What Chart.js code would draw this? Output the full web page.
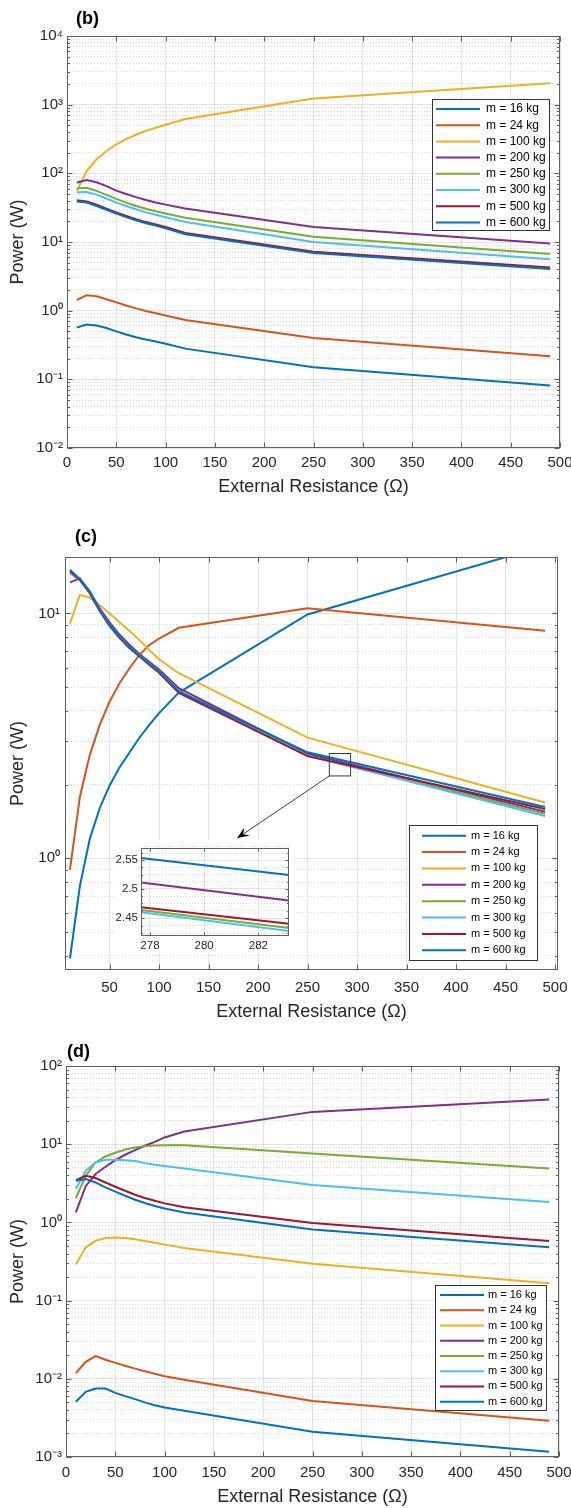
<!DOCTYPE html>
<html>
<head>
<meta charset="utf-8">
<script src="https://cdn.jsdelivr.net/npm/chart.js@4.4.1/dist/chart.umd.min.js"></script>
<style>
  html, body { margin: 0; padding: 0; background: #fff; }
  #page { position: relative; width: 571px; height: 1508px; overflow: hidden; background: #fff; }
  canvas { position: absolute; left: 0; }
  #inset { background: #fff; }
</style>
</head>
<body>
<div id="page">
  <canvas id="chartB" width="571" height="500" style="top:0px"></canvas>
  <canvas id="chartC" width="571" height="525" style="top:500px"></canvas>
  <canvas id="chartD" width="571" height="483" style="top:1025px"></canvas>
  <canvas id="inset" width="178" height="113" style="top:840px;left:116px"></canvas>
</div>
<script>
// external resistance (ohm) at which power was computed
var resistance = [10, 20, 30, 40, 50, 60, 70, 80, 90, 100, 120, 250, 490];
var massLabels = ['m = 16 kg', 'm = 24 kg', 'm = 100 kg', 'm = 200 kg', 'm = 250 kg', 'm = 300 kg', 'm = 500 kg', 'm = 600 kg'];
var seriesColors = ['#0072BD', '#D95319', '#EDB120', '#7E2F8E', '#77AC30', '#4DBEEE', '#A2142F', '#0072BD'];

// panel (b) power (W)
var b16  = [0.57, 0.63, 0.61, 0.56, 0.50, 0.45, 0.41, 0.38, 0.355, 0.33, 0.28, 0.15, 0.081];
var b24  = [1.43, 1.68, 1.62, 1.47, 1.32, 1.19, 1.08, 0.99, 0.92, 0.85, 0.73, 0.40, 0.217];
var b100 = [56, 108, 160, 212, 265, 315, 365, 415, 462, 510, 620, 1230, 2050];
var b200 = [73.5, 80, 74, 65, 56, 50, 45, 41, 37.5, 35, 30.8, 16.6, 9.5];
var b250 = [60, 61.5, 55.5, 48.5, 42.5, 37.5, 33.5, 30.5, 28, 26, 22.5, 11.9, 6.7];
var b300 = [53, 53.5, 49, 43, 37.5, 33.5, 30, 27, 25, 23, 19.5, 10, 5.6];
var b500 = [40.5, 39, 35, 30.5, 27, 24, 21.5, 19.5, 18, 16.5, 13.5, 7.2, 4.25];
var b600 = [39, 37.5, 33.5, 29.5, 26, 23, 20.7, 18.8, 17.3, 15.8, 13, 6.9, 4.05];

// panel (c) power (W)
var c16  = [0.39, 0.77, 1.2, 1.6, 1.98, 2.35, 2.7, 3.1, 3.5, 3.92, 4.75, 9.9, 18.9];
var c24  = [0.9, 1.78, 2.64, 3.5, 4.36, 5.18, 5.96, 6.76, 7.42, 7.9, 8.74, 10.5, 8.5];
var c100 = [9.1, 11.9, 11.6, 10.8, 10.0, 9.2, 8.5, 7.8, 7.1, 6.5, 5.7, 3.11, 1.69];
var c200 = [13.4, 13.9, 12.3, 10.5, 9.2, 8.2, 7.45, 6.85, 6.35, 5.9, 4.95, 2.674, 1.55];
var c250 = [14.6, 13.7, 12.2, 10.3, 8.95, 8.0, 7.3, 6.75, 6.25, 5.8, 4.82, 2.624, 1.52];
var c300 = [14.8, 13.7, 12.2, 10.3, 8.95, 8.0, 7.28, 6.73, 6.22, 5.77, 4.79, 2.626, 1.49];
var c500 = [14.9, 13.7, 12.1, 10.25, 8.9, 7.95, 7.22, 6.68, 6.18, 5.72, 4.74, 2.614, 1.59];
var c600 = [15.1, 13.8, 12.2, 10.3, 8.95, 8.0, 7.28, 6.73, 6.23, 5.78, 4.8, 2.71, 1.62];

// panel (d) power (W)
var d16  = [0.0051, 0.0068, 0.0075, 0.0075, 0.0066, 0.006, 0.0055, 0.005, 0.0046, 0.0043, 0.0039, 0.0021, 0.00117];
var d24  = [0.0118, 0.0165, 0.0195, 0.0175, 0.016, 0.0147, 0.0135, 0.0125, 0.0116, 0.0108, 0.0097, 0.0052, 0.0029];
var d100 = [0.29, 0.48, 0.58, 0.63, 0.64, 0.63, 0.61, 0.58, 0.55, 0.52, 0.47, 0.295, 0.167];
var d200 = [1.34, 2.9, 4.15, 5.14, 6.26, 7.33, 8.4, 9.55, 10.7, 12.2, 14.5, 25.9, 37.2];
var d250 = [2.05, 3.95, 5.84, 6.97, 7.77, 8.55, 9.07, 9.45, 9.62, 9.73, 9.7, 7.6, 4.9];
var d300 = [2.67, 4.57, 5.84, 6.31, 6.31, 6.25, 6.1, 5.73, 5.46, 5.25, 4.9, 3.0, 1.82];
var d500 = [3.48, 3.95, 3.69, 3.24, 2.86, 2.54, 2.26, 2.05, 1.89, 1.75, 1.56, 0.98, 0.58];
var d600 = [3.42, 3.58, 3.24, 2.8, 2.47, 2.19, 1.95, 1.77, 1.62, 1.51, 1.34, 0.81, 0.48];

// tick values and labels
var xTicks = [0, 50, 100, 150, 200, 250, 300, 350, 400, 450, 500];
var xTicksC = [50, 100, 150, 200, 250, 300, 350, 400, 450, 500];
var yTicksB = [0.01, 0.1, 1, 10, 100, 1000, 10000];
var yLabelsB = ['10⁻²', '10⁻¹', '10⁰', '10¹', '10²', '10³', '10⁴'];
var yTicksC = [1, 10];
var yLabelsC = ['10⁰', '10¹'];
var yTicksD = [0.001, 0.01, 0.1, 1, 10, 100];
var yLabelsD = ['10⁻³', '10⁻²', '10⁻¹', '10⁰', '10¹', '10²'];
var insetXTicks = [278, 280, 282];
var insetYTicks = [2.45, 2.5, 2.55];
var insetYLabels = ['2.45', '2.5', '2.55'];

var FONT = "'Liberation Sans', Arial, Helvetica, sans-serif";
var TEXT = '#262626';
var AXIS = '#5e5e5e';
var GRID_MAJOR = 'rgba(0,0,0,0.11)';
var GRID_MINOR = 'rgba(0,0,0,0.16)';

function near(a, b) { return Math.abs(a - b) <= Math.abs(b) * 1e-6; }

// 1..9 x 10^k grid positions between min and max
function logGrid(min, max) {
    var out = [];
    for (var e = Math.floor(Math.log10(min)); e <= Math.ceil(Math.log10(max)); e++) {
        for (var m = 1; m <= 9; m++) {
            var v = m * Math.pow(10, e);
            if (v >= min * 0.9999 && v <= max * 1.0001) out.push(v);
        }
    }
    return out;
}

var framePlugin = {
    id: 'frame',
    afterDatasetsDraw: function(chart, args, o) {
        var ctx = chart.ctx, a = chart.chartArea;
        var x = chart.scales.x, y = chart.scales.y;
        ctx.save();

        if (o.marker) {
            var m = o.marker;
            var x0 = x.getPixelForValue(m.x0), x1 = x.getPixelForValue(m.x1);
            var y0 = y.getPixelForValue(m.y0), y1 = y.getPixelForValue(m.y1);
            ctx.strokeStyle = '#3a3a3a';
            ctx.lineWidth = 1;
            ctx.strokeRect(x0, y1, x1 - x0, y0 - y1);
            var tx = x.getPixelForValue(m.tipX), ty = y.getPixelForValue(m.tipY);
            ctx.beginPath();
            ctx.moveTo(x0, y0);
            ctx.lineTo(tx, ty);
            ctx.stroke();
            var ang = Math.atan2(ty - y0, tx - x0), c = Math.cos(ang), s = Math.sin(ang);
            ctx.fillStyle = '#000';
            ctx.beginPath();
            ctx.moveTo(tx, ty);
            ctx.lineTo(tx - 12 * c + 5 * s, ty - 12 * s - 5 * c);
            ctx.lineTo(tx - 7 * c, ty - 7 * s);
            ctx.lineTo(tx - 12 * c - 5 * s, ty - 12 * s + 5 * c);
            ctx.closePath();
            ctx.fill();
        }

        // axes box and inward ticks
        var L = Math.round(a.left) + 0.5, R = Math.round(a.right) - 0.5;
        var T = Math.round(a.top) + 0.5, B = Math.round(a.bottom) - 0.5;
        ctx.strokeStyle = AXIS;
        ctx.lineWidth = 1;
        ctx.strokeRect(L, T, R - L, B - T);
        var tl = o.tickLen || 5;
        ctx.beginPath();
        x.ticks.forEach(function(t) {
            var px = Math.round(x.getPixelForValue(t.value)) + 0.5;
            if (px < L - 1 || px > R + 1) return;
            ctx.moveTo(px, B); ctx.lineTo(px, B - tl);
            ctx.moveTo(px, T); ctx.lineTo(px, T + tl);
        });
        y.ticks.forEach(function(t) {
            var py = Math.round(y.getPixelForValue(t.value)) + 0.5;
            if (py < T - 1 || py > B + 1) return;
            var len = t.major ? tl : tl * 0.5;
            ctx.moveTo(L, py); ctx.lineTo(L + len, py);
            ctx.moveTo(R, py); ctx.lineTo(R - len, py);
        });
        ctx.stroke();

        if (o.legend) {
            var g = o.legend;
            ctx.fillStyle = '#fff';
            ctx.fillRect(g.x, g.y, g.w, g.h);
            ctx.strokeStyle = '#333';
            ctx.lineWidth = 1;
            ctx.strokeRect(g.x + 0.5, g.y + 0.5, g.w, g.h);
            ctx.font = g.size + 'px ' + FONT;
            ctx.textBaseline = 'middle';
            ctx.textAlign = 'left';
            chart.data.datasets.forEach(function(ds, i) {
                var yy = g.row0 + i * g.dy;
                ctx.strokeStyle = ds.borderColor;
                ctx.lineWidth = 2;
                ctx.beginPath();
                ctx.moveTo(g.lx0, yy);
                ctx.lineTo(g.lx1, yy);
                ctx.stroke();
                ctx.fillStyle = '#000';
                ctx.fillText(ds.label, g.tx, yy);
            });
        }

        if (o.letter) {
            ctx.font = 'bold 18px ' + FONT;
            ctx.fillStyle = '#000';
            ctx.textBaseline = 'middle';
            ctx.textAlign = 'left';
            ctx.fillText(o.letter.text, o.letter.x, o.letter.y);
        }
        ctx.restore();
    }
};

function makeChart(id, cfg) {
    var n = cfg.series.length;
    var datasets = cfg.series.map(function(vals, i) {
        return {
            label: massLabels[i],
            data: resistance.map(function(r, j) { return { x: r, y: vals[j] }; }),
            borderColor: seriesColors[i],
            backgroundColor: seriesColors[i],
            borderWidth: cfg.lineWidth || 2,
            pointRadius: 0,
            tension: 0,
            clip: 0,
            order: n - i
        };
    });
    var yGrid = cfg.yGrid || logGrid(cfg.yMin, cfg.yMax);
    return new Chart(document.getElementById(id), {
        type: 'line',
        data: { datasets: datasets },
        options: {
            responsive: false,
            animation: false,
            devicePixelRatio: 1,
            layout: { padding: cfg.padding },
            plugins: {
                legend: { display: false },
                tooltip: { enabled: false },
                frame: cfg.frame
            },
            scales: {
                x: {
                    type: 'linear',
                    min: cfg.xMin,
                    max: cfg.xMax,
                    afterBuildTicks: function(s) {
                        s.ticks = cfg.xTicks.map(function(v) { return { value: v, major: true }; });
                    },
                    afterFit: function(s) { s.height = cfg.xHeight; s.paddingLeft = 0; s.paddingRight = 0; },
                    ticks: {
                        autoSkip: false,
                        maxRotation: 0,
                        padding: cfg.xPad,
                        color: TEXT,
                        font: { family: FONT, size: cfg.tickSize },
                        callback: function(v) { return String(v); }
                    },
                    grid: { color: GRID_MAJOR, drawTicks: false },
                    border: { display: false },
                    title: {
                        display: !!cfg.xTitle,
                        text: cfg.xTitle,
                        color: TEXT,
                        font: { family: FONT, size: 18 },
                        padding: { top: 0, bottom: cfg.xTitlePad || 0 }
                    }
                },
                y: {
                    type: 'logarithmic',
                    min: cfg.yMin,
                    max: cfg.yMax,
                    afterBuildTicks: function(s) {
                        s.ticks = yGrid.map(function(v) {
                            return { value: v, major: cfg.yTicks.some(function(t) { return near(v, t); }) };
                        });
                    },
                    afterFit: function(s) { s.width = cfg.yWidth; s.paddingTop = 0; s.paddingBottom = 0; },
                    ticks: {
                        autoSkip: false,
                        padding: cfg.yPad,
                        color: TEXT,
                        font: { family: FONT, size: cfg.tickSize },
                        callback: function(v) {
                            for (var i = 0; i < cfg.yTicks.length; i++) {
                                if (near(v, cfg.yTicks[i])) return cfg.yLabels[i];
                            }
                            return '';
                        }
                    },
                    grid: {
                        drawTicks: false,
                        color: function(c) { return c.tick && c.tick.major ? GRID_MAJOR : GRID_MINOR; }
                    },
                    border: {
                        display: false,
                        dash: function(c) { return c.tick && !c.tick.major ? [1, 2] : []; }
                    },
                    title: {
                        display: !!cfg.yTitle,
                        text: cfg.yTitle,
                        color: TEXT,
                        font: { family: FONT, size: 18 },
                        padding: { top: 7, bottom: 0 }
                    }
                }
            }
        },
        plugins: [framePlugin]
    });
}

makeChart('chartB', {
    series: [b16, b24, b100, b200, b250, b300, b500, b600],
    padding: { top: 36, right: 11, left: 0, bottom: 0 },
    xMin: 0, xMax: 500, xTicks: xTicks, xHeight: 52, xPad: 6, xTitlePad: 2,
    yMin: 0.01, yMax: 10000, yTicks: yTicksB, yLabels: yLabelsB, yWidth: 67, yPad: 4,
    tickSize: 15,
    xTitle: 'External Resistance (Ω)', yTitle: 'Power (W)',
    frame: {
        letter: { text: '(b)', x: 76, y: 19 },
        legend: { x: 432, y: 99, w: 117, h: 131, lx0: 436, lx1: 480, tx: 486, row0: 109, dy: 16.2, size: 12 }
    }
});

makeChart('chartC', {
    series: [c16, c24, c100, c200, c250, c300, c500, c600],
    padding: { top: 57, right: 13, left: 0, bottom: 0 },
    xMin: 5, xMax: 503, xTicks: xTicksC, xHeight: 55, xPad: 9, xTitlePad: 2,
    yMin: 0.35, yMax: 17, yTicks: yTicksC, yLabels: yLabelsC, yWidth: 65, yPad: 5,
    tickSize: 15,
    xTitle: 'External Resistance (Ω)', yTitle: 'Power (W)',
    frame: {
        letter: { text: '(c)', x: 75, y: 37 },
        legend: { x: 409, y: 325, w: 128, h: 135, lx0: 422, lx1: 466, tx: 471, row0: 335.7, dy: 16.37, size: 11 },
        marker: { x0: 272, x1: 293.5, y0: 2.17, y1: 2.68, tipX: 179, tipY: 1.21 }
    }
});

makeChart('chartD', {
    series: [d16, d24, d100, d200, d250, d300, d500, d600],
    padding: { top: 41, right: 12, left: 0, bottom: 0 },
    xMin: 0, xMax: 500, xTicks: xTicks, xHeight: 51, xPad: 7, xTitlePad: 0,
    yMin: 0.001, yMax: 100, yTicks: yTicksD, yLabels: yLabelsD, yWidth: 66, yPad: 4,
    tickSize: 15,
    xTitle: 'External Resistance (Ω)', yTitle: 'Power (W)',
    frame: {
        letter: { text: '(d)', x: 67, y: 27 },
        legend: { x: 435, y: 260, w: 111, h: 125, lx0: 440, lx1: 484, tx: 488, row0: 270, dy: 15.24, size: 11 }
    }
});

// inset: zoom of panel (c) around R = 280 ohm
var insetGrid = [];
for (var k = 0; k <= 12; k++) insetGrid.push(Math.round((2.425 + k * 0.0125) * 10000) / 10000);
makeChart('inset', {
    series: [c16, c24, c100, c200, c250, c300, c500, c600],
    padding: { top: 8, right: 5, left: 0, bottom: 0 },
    xMin: 277.67, xMax: 283.13, xTicks: insetXTicks, xHeight: 17, xPad: 3,
    yMin: 2.4233, yMax: 2.5717, yTicks: insetYTicks, yLabels: insetYLabels, yGrid: insetGrid, yWidth: 25, yPad: 3,
    tickSize: 11.5,
    frame: { tickLen: 3 }
});
</script>
</body>
</html>
